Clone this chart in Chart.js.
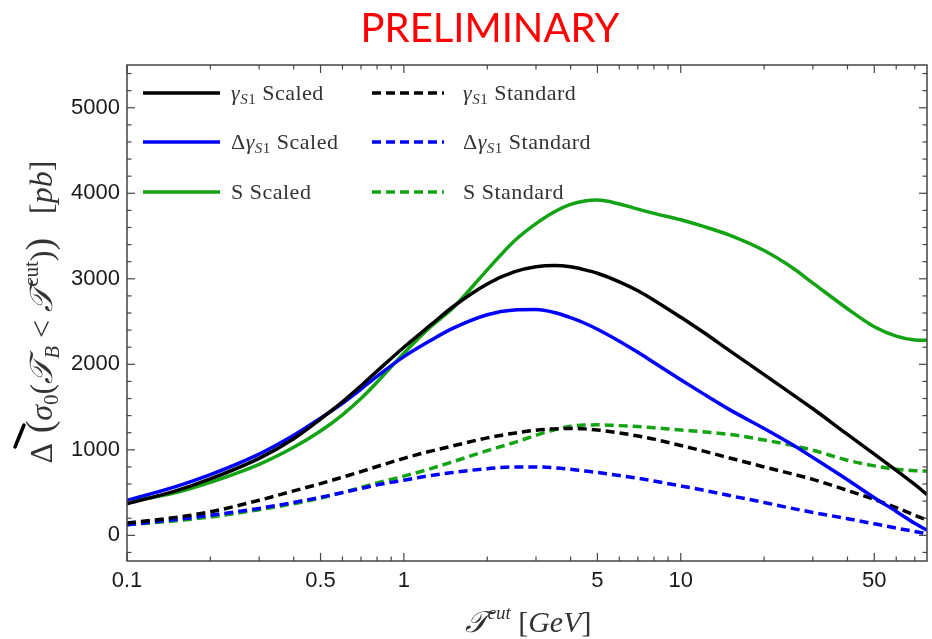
<!DOCTYPE html>
<html><head><meta charset="utf-8">
<script src="https://cdn.jsdelivr.net/npm/chart.js@4.4.1/dist/chart.umd.min.js"></script>
<style>html,body{margin:0;padding:0;background:#fff}#wrap{width:932px;height:639px}</style>
</head><body><div id="wrap"><canvas id="c" width="932" height="639"></canvas></div>
<script>
// ---- data ----
const tcut = [0.1,0.15,0.2,0.3,0.4,0.5,0.6,0.7,0.8,1,1.25,1.5,2,2.5,3,3.5,4,4.5,5,6,7,8,10,12,15,20,25,30,40,50,60,70,77.5];
const gammaScaled      = [370,520,660,900,1130,1360,1560,1750,1920,2200,2460,2670,2940,3080,3140,3155,3140,3105,3065,2965,2860,2750,2550,2380,2160,1880,1660,1480,1180,950,760,595,475];
const deltaGammaScaled = [410,570,710,950,1170,1370,1545,1710,1860,2090,2280,2420,2580,2635,2640,2605,2545,2480,2410,2270,2140,2020,1820,1660,1470,1250,1070,910,650,440,280,140,60];
const sScaled          = [390,500,620,830,1030,1220,1410,1600,1790,2130,2440,2655,3105,3440,3645,3785,3870,3910,3920,3875,3815,3765,3690,3615,3510,3330,3140,2950,2650,2440,2330,2285,2280];
const gammaStandard    = [145,210,275,410,520,605,680,745,805,900,985,1045,1140,1195,1230,1245,1250,1245,1232,1198,1162,1125,1050,988,905,800,722,655,525,420,325,235,180];
const deltaGammaStandard=[125,185,235,315,385,445,500,548,590,645,700,735,780,800,800,790,772,752,735,700,668,635,578,530,465,385,318,268,195,135,85,45,18];
const sStandard        = [125,170,215,300,370,435,500,560,612,692,780,860,990,1085,1170,1235,1275,1290,1292,1283,1272,1258,1232,1212,1180,1115,1055,995,878,812,772,756,752];
const xTickLabels = [0.1,0.5,1,5,10,50];
const xMinorTicks = [0.2,0.3,0.4,0.6,0.7,0.8,0.9,2,3,4,6,7,8,9,20,30,40,60,70];
const yTickLabels = [0,1000,2000,3000,4000,5000];
const yMinorStep = 200;

const BLACK='#000000', BLUE='#0000ff', GREEN='#14a314';
const SERIF = '"Liberation Serif", "DejaVu Serif", serif';
const SANS = '"Liberation Sans", Arial, sans-serif';

function pts(arr){ return tcut.map((x,i)=>({x:x, y:arr[i]})); }
function ds(label, arr, color, dashed){
  return {label, data:pts(arr), borderColor:color, backgroundColor:color, borderWidth:3.5,
    borderDash: dashed ? [9,5] : [], pointRadius:0, fill:false, cubicInterpolationMode:'monotone'};
}

const F = s => s + 'px ' + SERIF;
const sub = (t)=>({t, f:'italic '+F(15), dy:4});
const legendParts = [
  [{t:'γ',f:'italic '+F(22)},sub('S'),{t:'1',f:F(15),dy:4},{t:' Scaled',f:F(22)}],
  [{t:'Δ',f:F(22)},{t:'γ',f:'italic '+F(22)},sub('S'),{t:'1',f:F(15),dy:4},{t:' Scaled',f:F(22)}],
  [{t:'S Scaled',f:F(22)}],
  [{t:'γ',f:'italic '+F(22)},sub('S'),{t:'1',f:F(15),dy:4},{t:' Standard',f:F(22)}],
  [{t:'Δ',f:F(22)},{t:'γ',f:'italic '+F(22)},sub('S'),{t:'1',f:F(15),dy:4},{t:' Standard',f:F(22)}],
  [{t:'S Standard',f:F(22)}]
];

function drawRich(ctx, parts, x, y, align){
  let w = 0;
  parts.forEach(p=>{ctx.font=p.f; w += ctx.measureText(p.t).width;});
  let cx = align==='center' ? x - w/2 : x;
  parts.forEach(p=>{ctx.font=p.f; ctx.fillText(p.t, cx, y + (p.dy||0)); cx += ctx.measureText(p.t).width;});
}

const decor = {
  id:'decor',
  afterDraw(chart){
    const {ctx, chartArea:a, scales:{x, y}} = chart;
    ctx.save();
    ctx.strokeStyle='#444'; ctx.lineWidth=1.5;
    ctx.strokeRect(a.left, a.top, a.right-a.left, a.bottom-a.top);
    ctx.lineWidth=1.2;
    const ln=(x1,y1,x2,y2)=>{ctx.beginPath();ctx.moveTo(x1,y1);ctx.lineTo(x2,y2);ctx.stroke();};
    xTickLabels.concat(xMinorTicks).forEach(v=>{
      const L = xTickLabels.includes(v) ? 8 : 4.5;
      const px = x.getPixelForValue(v);
      ln(px,a.bottom,px,a.bottom-L); ln(px,a.top,px,a.top+L);
    });
    for(let v=-200; v<=5400; v+=yMinorStep){
      const L = (v%1000===0) ? 8 : 4.5;
      const py = y.getPixelForValue(v);
      ln(a.left,py,a.left+L,py); ln(a.right,py,a.right-L,py);
    }
    // legend
    const rows=[93,142,192];
    chart.data.datasets.forEach((d,i)=>{
      const col = i<3 ? 0 : 1, row = i%3;
      const lx = col===0 ? [143,220] : [372,444];
      const tx = col===0 ? 231 : 463;
      ctx.strokeStyle=d.borderColor; ctx.lineWidth=3.5; ctx.setLineDash(d.borderDash);
      ln(lx[0],rows[row],lx[1],rows[row]);
      ctx.setLineDash([]);
      ctx.fillStyle='#333'; ctx.textBaseline='alphabetic'; ctx.textAlign='left';
      ctx.letterSpacing='0.5px';
      drawRich(ctx, legendParts[i], tx, rows[row]+7, 'left');
      ctx.letterSpacing='0px';
    });
    // title
    ctx.fillStyle='#ff0000'; ctx.font='40px Lato, "Open Sans", sans-serif'; ctx.textAlign='center';
    ctx.fillText('PRELIMINARY', 490, 42);
    ctx.textAlign='left';
    // x axis title
    ctx.fillStyle='#333';
    drawRich(ctx,[{t:'𝒯',f:'italic '+F(30)},{t:'cut',f:'italic '+F(19),dy:-13},{t:' [',f:F(30)},{t:'GeV',f:'italic '+F(30)},{t:']',f:F(30)}],528,632,'center');
    // y axis title
    ctx.save();
    ctx.translate(52,312); ctx.rotate(-Math.PI/2);
    drawRich(ctx,[{t:'Δ',f:F(32)},{t:' (',f:F(38)},{t:'σ',f:'italic '+F(32)},{t:'0',f:F(21),dy:6},{t:'(',f:F(32)},
      {t:'𝒯',f:'italic '+F(32)},{t:'B',f:'italic '+F(21),dy:7},{t:' < ',f:F(32)},{t:'𝒯',f:'italic '+F(32)},
      {t:'cut',f:F(21),dy:-14},{t:')',f:F(32)},{t:')',f:F(38)},{t:'   [',f:F(32)},{t:'pb',f:'italic '+F(32)},{t:']',f:F(32)}],0,0,'center');
    ctx.restore();
    // stray mark at left edge of the slide
    ctx.strokeStyle='#000'; ctx.lineWidth=3.5; ctx.lineCap='round';
    ln(24,425,15,447);
    ctx.restore();
  }
};

new Chart(document.getElementById('c'), {
  type:'line',
  data:{datasets:[
    ds('γS1 Scaled', gammaScaled, BLACK, false),
    ds('ΔγS1 Scaled', deltaGammaScaled, BLUE, false),
    ds('S Scaled', sScaled, GREEN, false),
    ds('γS1 Standard', gammaStandard, BLACK, true),
    ds('ΔγS1 Standard', deltaGammaStandard, BLUE, true),
    ds('S Standard', sStandard, GREEN, true)
  ]},
  options:{
    responsive:false, animation:false, devicePixelRatio:1,
    layout:{padding:{top:65,right:5,left:0,bottom:0}},
    plugins:{legend:{display:false}, title:{display:false}, tooltip:{enabled:false}},
    scales:{
      x:{type:'logarithmic', min:0.1, max:77.5,
        grid:{display:false, drawTicks:false}, border:{display:false},
        afterBuildTicks:s=>{s.ticks = xTickLabels.map(v=>({value:v}));},
        afterFit:s=>{s.height=78;},
        ticks:{font:{family:SANS,size:22}, color:'#1a1a1a', padding:7, maxRotation:0, autoSkip:false, callback:v=>String(v)}},
      y:{type:'linear', min:-300, max:5500,
        grid:{display:false, drawTicks:false}, border:{display:false},
        afterBuildTicks:s=>{s.ticks = yTickLabels.map(v=>({value:v}));},
        afterFit:s=>{s.width=127;},
        ticks:{font:{family:SANS,size:22}, color:'#1a1a1a', padding:7, autoSkip:false, callback:v=>String(v)}}
    }
  },
  plugins:[decor]
});
</script></body></html>
